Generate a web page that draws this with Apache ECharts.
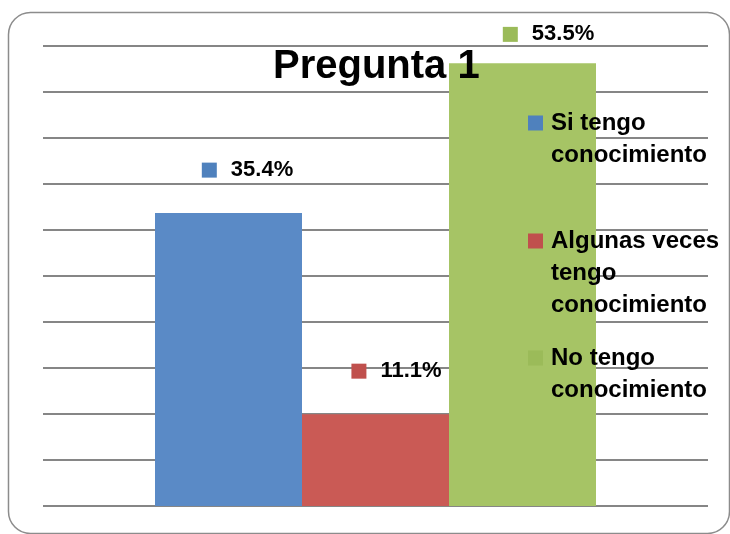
<!DOCTYPE html>
<html>
<head>
<meta charset="utf-8">
<script src="https://cdn.jsdelivr.net/npm/echarts@6/dist/echarts.min.js"></script>
<style>
  html, body { margin: 0; padding: 0; background: #fff; }
  #chart { width: 730px; height: 534px; }
</style>
</head>
<body>
<div id="chart"></div>
<script>
// data
const categories = ["Pregunta 1"];
const seriesNames = ["Si tengo conocimiento", "Algunas veces tengo conocimiento", "No tengo conocimiento"];
const siValues = [35.4];
const algunasValues = [11.1];
const noValues = [53.5];
const legendLines = [["Si tengo", "conocimiento"], ["Algunas veces", "tengo", "conocimiento"], ["No tengo", "conocimiento"]];

const FONT = "Liberation Sans";
const barColors = ["#5A8AC6", "#CA5A55", "#A6C465"];
const keyColors = ["#4F81BD", "#C0504D", "#9BBB59"];

const chart = echarts.init(document.getElementById("chart"));

// label: coloured key square + value, like the excel data label
function makeLabel(i, distance, offsetX) {
  return {
    show: true,
    position: "top",
    distance: distance,
    offset: [offsetX, 0],
    formatter: (p) => "{sq|}{gap|}{v|" + p.value + "%}",
    rich: {
      sq: { width: 15, height: 15, backgroundColor: keyColors[i], verticalAlign: "middle" },
      gap: { width: 14 },
      v: { fontFamily: FONT, fontSize: 22, fontWeight: "bold", color: "#000", lineHeight: 26 },
    },
  };
}

function makeLegend(i, top) {
  return {
    data: [seriesNames[i]],
    orient: "vertical",
    left: 523,
    top: top,
    padding: 0,
    icon: "none",
    itemWidth: 0,
    itemHeight: 0,
    selectedMode: false,
    formatter: () =>
      legendLines[i]
        .map((line, k) => (k === 0 ? "{sq|}{gap|}{t|" + line + "}" : "{ind|}{t|" + line + "}"))
        .join("\n"),
    textStyle: {
      rich: {
        sq: { width: 15, height: 15, backgroundColor: keyColors[i], verticalAlign: "middle" },
        gap: { width: 8 },
        ind: { width: 23 },
        t: { fontFamily: FONT, fontSize: 24, fontWeight: "bold", color: "#000", lineHeight: 32 },
      },
    },
  };
}

const option = {
  animation: false,
  title: {
    text: "Pregunta 1",
    left: 273,
    top: 47,
    padding: 0,
    textStyle: { fontFamily: FONT, fontSize: 40, fontWeight: "bold", color: "#000" },
  },
  legend: [makeLegend(0, 111), makeLegend(1, 229), makeLegend(2, 346)],
  grid: { left: 43, right: 22, top: 46, bottom: 28 },
  xAxis: {
    type: "category",
    data: categories,
    axisLine: { show: false },
    axisTick: { show: false },
    axisLabel: { show: false },
  },
  yAxis: {
    type: "value",
    min: 0,
    max: 55.6,
    interval: 5.56,
    axisLine: { show: false },
    axisTick: { show: false },
    axisLabel: { show: false },
    splitLine: { lineStyle: { color: "#868686", width: 2 } },
  },
  graphic: [
    {
      type: "rect",
      shape: { x: 8.5, y: 12.5, width: 721, height: 521, r: 22 },
      style: { fill: "none", stroke: "#8c8c8c", lineWidth: 1.5 },
      silent: true,
    },
  ],
  series: [
    {
      name: seriesNames[0],
      type: "bar",
      data: siValues,
      barWidth: 147,
      barGap: "0%",
      itemStyle: { color: barColors[0] },
      label: makeLabel(0, 30, 19),
    },
    {
      name: seriesNames[1],
      type: "bar",
      data: algunasValues,
      barWidth: 147,
      barGap: "0%",
      itemStyle: { color: barColors[1] },
      label: makeLabel(1, 30, 21),
    },
    {
      name: seriesNames[2],
      type: "bar",
      data: noValues,
      barWidth: 147,
      barGap: "0%",
      itemStyle: { color: barColors[2] },
      label: makeLabel(2, 16, 26),
    },
  ],
};

chart.setOption(option);
</script>
</body>
</html>
